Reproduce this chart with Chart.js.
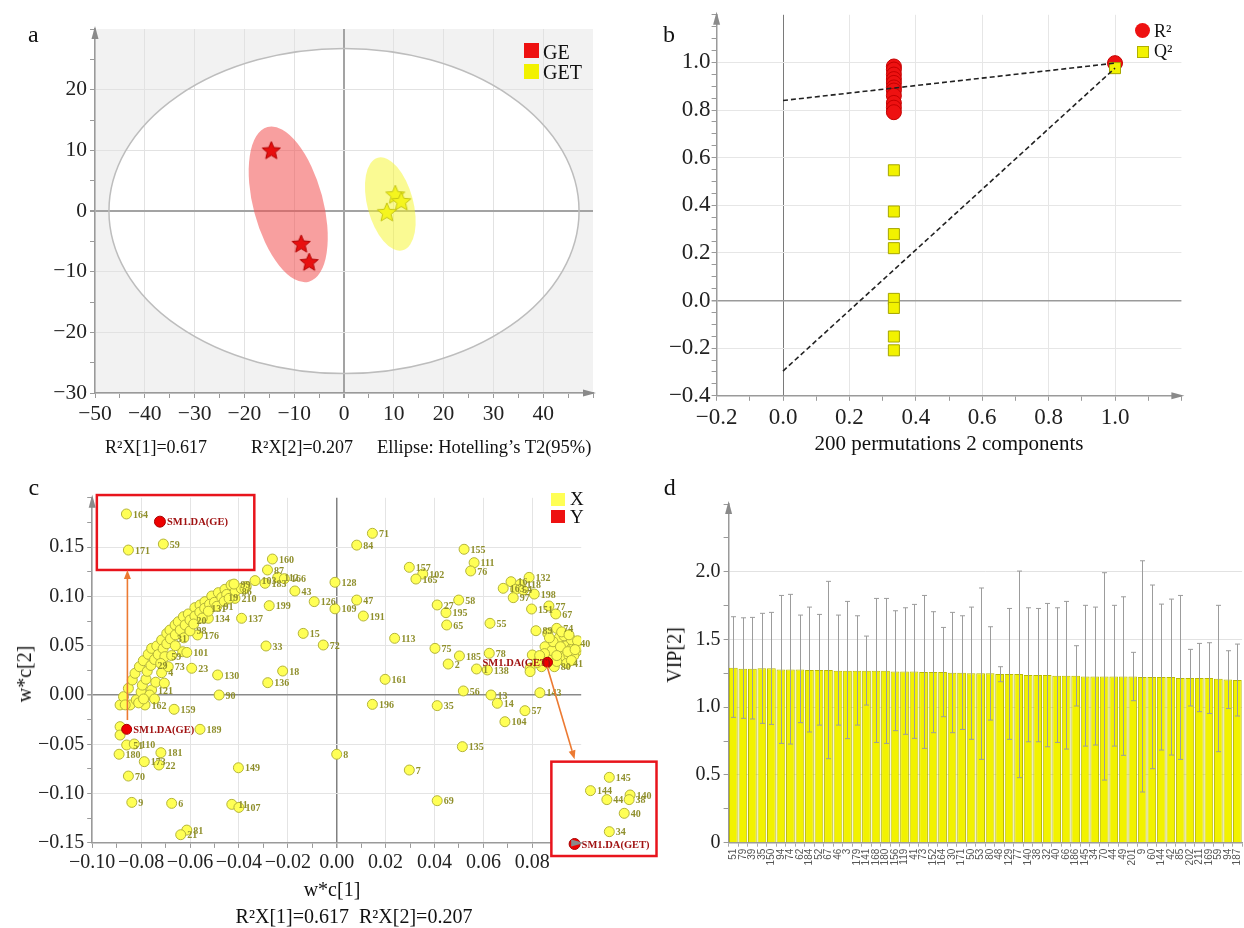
<!DOCTYPE html>
<html><head><meta charset="utf-8"><title>PLS-DA figure</title>
<script src="https://cdn.jsdelivr.net/npm/chart.js@4.4.1/dist/chart.umd.min.js"></script>
<style>
html,body{margin:0;padding:0;background:#fff}
body{width:1244px;height:928px;position:relative;overflow:hidden;font-family:"Liberation Serif","Times New Roman",serif;color:#111}
canvas{position:absolute;display:block}
.t{position:absolute;white-space:nowrap;line-height:1}
.c{transform:translateX(-50%)}
.r{transform:translate(-50%,-50%) rotate(-90deg)}
.box{position:absolute}
</style></head><body>
<canvas id="ca" width="620" height="470" style="left:0;top:0"></canvas>
<canvas id="cb" width="624" height="470" style="left:620px;top:0"></canvas>
<canvas id="cc" width="660" height="458" style="left:0;top:470px"></canvas>
<canvas id="cd" width="600" height="458" style="left:660px;top:470px"></canvas>

<!-- panel a texts -->
<div class="t" style="left:28px;top:22px;font-size:24px">a</div>
<div class="box" style="left:524px;top:43px;width:14.5px;height:15px;background:#ee1111"></div>
<div class="box" style="left:524px;top:64px;width:14.5px;height:15px;background:#f2f200"></div>
<div class="t" style="left:543px;top:41.6px;font-size:20px">GE</div>
<div class="t" style="left:543px;top:61.6px;font-size:20px">GET</div>
<div class="t" style="left:105px;top:438px;font-size:18px">R²X[1]=0.617</div>
<div class="t" style="left:251px;top:438px;font-size:18px">R²X[2]=0.207</div>
<div class="t" style="left:377px;top:438px;font-size:18.5px">Ellipse: Hotelling’s T2(95%)</div>

<!-- panel b texts -->
<div class="t" style="left:663px;top:22px;font-size:24px">b</div>
<div class="box" style="left:1135px;top:23px;width:15px;height:15px;border-radius:50%;background:#ee1111"></div>
<div class="box" style="left:1136.5px;top:45.5px;width:12px;height:12px;background:#f2f200;border:1px solid #b0b000;box-sizing:border-box"></div>
<div class="t" style="left:1154px;top:21.6px;font-size:18px">R²</div>
<div class="t" style="left:1154px;top:41.6px;font-size:18px">Q²</div>
<div class="t c" style="left:949px;top:433px;font-size:21px">200 permutations 2 components</div>

<!-- panel c texts -->
<div class="t" style="left:28.6px;top:475px;font-size:24px">c</div>
<div class="box" style="left:551px;top:493px;width:14px;height:12.5px;background:#ffff55"></div>
<div class="box" style="left:551px;top:510px;width:14px;height:12.5px;background:#ee1111"></div>
<div class="t" style="left:570px;top:489px;font-size:19px">X</div>
<div class="t" style="left:570px;top:507px;font-size:19px">Y</div>
<div class="t r" style="left:24px;top:674px;font-size:20px">w*c[2]</div>
<div class="t c" style="left:332px;top:879px;font-size:20px">w*c[1]</div>
<div class="t c" style="left:354px;top:906px;font-size:20px">R²X[1]=0.617&nbsp;&nbsp;R²X[2]=0.207</div>

<!-- panel d texts -->
<div class="t" style="left:663.7px;top:475px;font-size:24px">d</div>
<div class="t r" style="left:674px;top:655px;font-size:20px">VIP[2]</div>

<script>
// ================= DATA =================
// Panel a: PLS-DA score plot (t[1], t[2])
const aXTicks = [-50,-40,-30,-20,-10,0,10,20,30,40];
const aYTicks = [-30,-20,-10,0,10,20];
const aGE_t1  = [-14.6, -8.6, -7.0];
const aGE_t2  = [9.9, -5.5, -8.5];
const aGET_t1 = [10.3, 11.5, 8.6];
const aGET_t2 = [2.6, 1.5, -0.3];
const aHotelling = [0, 0, 47.2, 26.8];            // centre t1, centre t2, semi-axis t1, semi-axis t2
const aEllipseGE  = [-11.2, 1.1, 7.0, 13.2, -15];  // centre t1, t2, semi-axes, tilt (deg)
const aEllipseGET = [9.3, 1.15, 4.6, 7.9, -15];

// Panel b: permutation test
const bXTicks = [-0.2,0,0.2,0.4,0.6,0.8,1.0];
const bYTicks = [-0.4,-0.2,0,0.2,0.4,0.6,0.8,1.0];
const bPermCorr = 0.334;
const bR2Perm = [0.983,0.970,0.949,0.930,0.914,0.895,0.882,0.860,0.830,0.810,0.791];
const bQ2Perm = [0.547,0.374,0.279,0.220,0.007,-0.031,-0.151,-0.209];
const bR2Orig = 0.997, bQ2Orig = 0.976;
const bR2Line = [0.84, 0.997];     // intercept at 0, value at 1
const bQ2Line = [-0.296, 0.976];

// Panel c: loading plot w*c[1], w*c[2]  — [x, y, label]
const cXTicks = [-0.10,-0.08,-0.06,-0.04,-0.02,0,0.02,0.04,0.06,0.08];
const cYTicks = [-0.15,-0.10,-0.05,0,0.05,0.10,0.15];
const cLabelled = [
 [0.0146,0.164,'71'],[0.0082,0.152,'84'],[0.0521,0.1478,'155'],[0.0562,0.1342,'111'],[0.0548,0.1258,'76'],
 [0.0297,0.1295,'157'],[0.0352,0.1227,'102'],[0.0324,0.1176,'165'],[-0.0263,0.1379,'160'],[-0.0283,0.1268,'87'],
 [-0.0241,0.1193,'112'],[-0.0214,0.118,'166'],[-0.0334,0.116,'103'],[-0.0293,0.1133,'183'],[-0.0007,0.1143,'128'],
 [-0.0171,0.1055,'43'],[-0.0092,0.0947,'126'],[-0.0007,0.0874,'109'],[0.0082,0.0963,'47'],[0.0109,0.0801,'191'],
 [-0.0276,0.0906,'199'],[-0.0416,0.098,'210'],[-0.0389,0.0778,'137'],[-0.0525,0.0778,'134'],[-0.0569,0.0609,'176'],
 [-0.0137,0.0625,'15'],[-0.0055,0.0507,'72'],[-0.0289,0.0497,'33'],[-0.063,0.0439,''],[-0.0613,0.0432,'101'],
 [-0.0593,0.0271,'23'],[-0.0487,0.0203,'130'],[-0.0221,0.0243,'18'],[-0.0282,0.0125,'136'],[-0.0757,0.0051,'121'],
 [-0.0481,0.0,'90'],[-0.0784,-0.0101,'162'],[-0.0665,-0.0145,'159'],[-0.0559,-0.0348,'189'],[-0.0886,-0.0321,''],
 [-0.0886,-0.0406,''],[-0.0859,-0.0507,'51'],[-0.0828,-0.0497,'110'],[-0.089,-0.0601,'180'],[-0.0719,-0.0585,'181'],
 [-0.0787,-0.0676,'173'],[-0.0727,-0.071,'22'],[-0.0852,-0.0822,'70'],[-0.0402,-0.0738,'149'],[0.0,-0.0601,'8'],
 [0.0297,-0.0761,'7'],[0.0514,-0.0524,'135'],[0.0411,-0.1072,'69'],[-0.0838,-0.1089,'9'],[-0.0675,-0.1099,'6'],
 [-0.0429,-0.1109,'11'],[-0.04,-0.114,'107'],[-0.0613,-0.137,'81'],[-0.0638,-0.1417,'21'],[0.0198,0.0159,'161'],
 [0.0146,-0.0095,'196'],[0.0237,0.0575,'113'],[0.0402,0.0473,'75'],[0.0411,0.0913,'27'],[0.0499,0.0963,'58'],
 [0.0447,0.0835,'195'],[0.045,0.071,'65'],[0.0502,0.0396,'185'],[0.0456,0.0314,'2'],[0.0627,0.0727,'55'],
 [0.0624,0.0423,'78'],[0.0572,0.0264,'1'],[0.0616,0.0254,'138'],[0.0518,0.0041,'56'],[0.0631,0.0,'13'],
 [0.0657,-0.0084,'14'],[0.0688,-0.0271,'104'],[0.077,-0.0159,'57'],[0.0411,-0.0108,'35'],[0.0831,0.0023,'143'],
 [0.0787,0.1193,'132'],[0.0713,0.1149,'16'],[0.075,0.1122,'118'],[0.0681,0.1082,'163'],[0.0732,0.1072,'54'],
 [0.0763,0.1065,''],[0.0722,0.0987,'97'],[0.0808,0.1024,'198'],[0.0797,0.0872,'151'],[0.0868,0.0903,'77'],
 [0.0896,0.0822,'67'],[0.0815,0.0652,'89'],[0.09,0.0676,'74']
];
const cRightCluster = [
 [0.0863,0.0625,''],[0.0906,0.0534,''],[0.0800,0.0406,''],[0.0852,0.0490,''],[0.0872,0.0406,''],
 [0.0791,0.0271,''],[0.0791,0.0237,''],[0.0838,0.0287,''],[0.0890,0.0287,'80'],[0.0920,0.0450,''],
 [0.0940,0.0500,''],[0.0960,0.0470,''],[0.0970,0.0520,'40'],[0.0980,0.0440,''],[0.0930,0.0380,''],
 [0.0950,0.0400,''],[0.0910,0.0580,''],[0.0930,0.0600,''],[0.0960,0.0560,''],[0.0990,0.0490,''],
 [0.0940,0.0320,'41'],[0.0900,0.0340,''],[0.0880,0.0450,''],[0.0885,0.0540,''],[0.0920,0.0640,''],
 [0.0870,0.0580,''],[0.0850,0.0420,''],[0.0820,0.0330,''],[0.0830,0.0400,''],[0.0970,0.0400,''],
 [0.0985,0.0550,''],[0.0950,0.0610,''],[0.0915,0.0490,''],[0.0945,0.0440,''],[0.0900,0.0400,''],
 [0.0960,0.0350,''],[0.0975,0.0460,'']
];
const cLeftArc = [
 [-0.0886,-0.0101,''],[-0.0872,-0.0017,''],[-0.0852,0.0068,''],[-0.0836,0.0152,''],[-0.0825,0.0220,''],
 [-0.0807,0.0287,''],[-0.0791,0.0348,''],[-0.0771,0.0413,''],[-0.0757,0.0473,''],[-0.0736,0.0497,''],
 [-0.0716,0.0558,''],[-0.0695,0.0625,''],[-0.0682,0.0659,''],[-0.0661,0.0710,''],[-0.0648,0.0743,''],
 [-0.0627,0.0794,''],[-0.0607,0.0822,''],[-0.0580,0.0886,''],[-0.0559,0.0913,''],[-0.0539,0.0947,''],
 [-0.0511,0.1004,''],[-0.0484,0.1038,''],[-0.0457,0.1072,''],[-0.0432,0.1116,''],
 [-0.0845,-0.0101,''],[-0.0820,-0.0050,''],[-0.0800,0.0030,''],[-0.0795,0.0100,''],[-0.0780,0.0160,''],
 [-0.0775,0.0240,''],[-0.0760,0.0300,'29'],[-0.0745,0.0360,''],[-0.0730,0.0410,''],[-0.0710,0.0470,''],
 [-0.0695,0.0520,''],[-0.0680,0.0570,'31'],[-0.0660,0.0610,''],[-0.0640,0.0660,''],[-0.0620,0.0710,''],
 [-0.0600,0.0760,'20'],[-0.0580,0.0800,''],[-0.0560,0.0840,''],[-0.0540,0.0880,'131'],[-0.0520,0.0920,''],
 [-0.0500,0.0940,''],[-0.0470,0.0990,'19'],[-0.0450,0.1020,''],[-0.0415,0.1050,'86'],[-0.0390,0.1080,''],
 [-0.0370,0.1100,''],
 [-0.0716,0.0226,'4'],[-0.0689,0.0287,'73'],[-0.0703,0.0389,'59'],[-0.0740,0.0130,''],[-0.0765,0.0000,''],
 [-0.0810,-0.0080,''],[-0.0865,-0.0100,''],[-0.0745,-0.0040,''],[-0.0790,-0.0040,''],[-0.0705,0.0120,''],
 [-0.0720,0.0320,''],[-0.0675,0.0400,''],[-0.0660,0.0500,''],[-0.0625,0.0580,''],[-0.0600,0.0650,'98'],
 [-0.0585,0.0720,''],[-0.0550,0.0780,''],[-0.0525,0.0850,''],[-0.0490,0.0900,'91'],[-0.0460,0.0950,''],
 [-0.0440,0.0980,''],[-0.0420,0.1125,'99'],[-0.0375,0.1080,'']
];
const cYVars = [[-0.0859,-0.0348,'SM1.DA(GE)'],[0.0862,0.0332,'SM1.DA(GET)']];
// magnified insets (drawn in the loading-plot coordinates)
const cInsetX = [
 [-0.0860,0.1836,'164'],[-0.0852,0.1470,'171'],[-0.0709,0.1531,'59'],
 [0.1115,-0.0835,'145'],[0.1038,-0.0970,'144'],[0.1105,-0.1061,'44'],[0.1200,-0.1014,'140'],
 [0.1196,-0.1061,'38'],[0.1176,-0.1200,'40'],[0.1115,-0.1386,'34']
];
const cInsetY = [[-0.0723,0.1758,'SM1.DA(GE)'],[0.0973,-0.1511,'SM1.DA(GET)']];
const cInsetBoxes = [[-0.0981,0.2028,-0.0337,0.1268],[0.0878,-0.0676,0.1308,-0.1633]]; // x0,y0,x1,y1
const cArrows = [[-0.0856,-0.0254,-0.0856,0.1268],[0.0861,0.0287,0.0973,-0.0652]];   // from -> to

// Panel d: VIP[2]
const dYTicks = [0,0.5,1.0,1.5,2.0];
const dLabels = ['51','79','39','35','150','94','74','62','184','52','67','46','3','179','141','168','180','156','119','41','73','152','164','30','171','50','53','80','48','129','77','140','38','32','40','66','186','145','34','70','44','49','201','9','60','144','42','85','202','211','169','59','94','187'];
const dVip = [1.291,1.284,1.284,1.287,1.287,1.279,1.279,1.279,1.274,1.274,1.274,1.269,1.269,1.269,1.269,1.269,1.269,1.264,1.264,1.264,1.260,1.260,1.260,1.255,1.255,1.250,1.250,1.250,1.245,1.245,1.245,1.237,1.237,1.237,1.232,1.232,1.232,1.227,1.227,1.227,1.227,1.227,1.227,1.223,1.223,1.223,1.223,1.215,1.215,1.215,1.215,1.210,1.205,1.200];
const dUp = [1.668,1.660,1.663,1.693,1.700,1.825,1.833,1.680,1.739,1.685,1.929,1.680,1.781,1.675,1.525,1.803,1.803,1.712,1.734,1.759,1.825,1.705,1.589,1.700,1.675,1.739,1.880,1.594,1.299,1.729,2.005,1.734,1.729,1.766,1.734,1.781,1.454,1.752,1.739,1.993,1.752,1.815,1.405,2.081,1.902,1.761,1.798,1.825,1.427,1.471,1.476,1.752,1.417,1.466];
const dLo = [0.925,0.918,0.913,0.881,0.873,0.733,0.728,0.886,0.817,0.868,0.620,0.868,0.768,0.868,1.016,0.740,0.733,0.827,0.800,0.770,0.696,0.812,0.930,0.812,0.836,0.763,0.615,0.905,1.188,0.763,0.480,0.745,0.745,0.708,0.740,0.691,1.009,0.713,0.721,0.462,0.713,0.645,1.048,0.374,0.546,0.684,0.647,0.615,1.009,0.967,0.954,0.672,0.991,0.935];

// ================= HELPERS =================
Chart.defaults.font.family = '"Liberation Serif","Times New Roman",serif';
Chart.defaults.font.size = 20;
Chart.defaults.color = '#222';
Chart.defaults.animation = false;
Chart.defaults.plugins.legend.display = false;
Chart.defaults.plugins.tooltip.enabled = false;

const MINUS = '\u2212';
const isMajor = (v, majors) => majors.some(m => Math.abs(m - v) < 1e-9);
const fmtNum = (v, dec) => (v < -1e-12 ? MINUS : '') + Math.abs(v).toFixed(dec);

function linAxis(o) {
  return {
    type: 'linear', min: o.min, max: o.max,
    afterBuildTicks(ax) {
      const n = Math.round((o.max - o.min) / o.step), t = [];
      for (let i = 0; i <= n; i++) t.push({ value: Math.round((o.min + i * o.step) * 1e6) / 1e6 });
      ax.ticks = t;
    },
    ticks: {
      autoSkip: false, maxRotation: 0, minRotation: 0, padding: o.pad ?? 3, color: '#222',
      font: { size: o.font || 20 },
      callback: v => isMajor(v, o.majors) ? (o.fmt ? o.fmt(v) : fmtNum(v, o.dec)) : ''
    },
    grid: {
      color: c => {
        const v = c.tick ? c.tick.value : NaN;
        if (!isMajor(v, o.majors)) return 'rgba(0,0,0,0)';
        if (Math.abs(v) < 1e-9 && o.zeroColor) return o.zeroColor;
        return o.gridColor || '#e3e3e3';
      },
      lineWidth: c => {
        const v = c.tick ? c.tick.value : NaN;
        return (Math.abs(v) < 1e-9 && o.zeroColor) ? (o.zeroWidth || 1.5) : 1;
      },
      tickColor: '#9a9a9a', tickLength: 5, drawTicks: true
    },
    border: { display: true, color: '#9a9a9a', width: 1.5 },
    afterFit(ax) { if (o.isX) ax.height = o.size; else ax.width = o.size; }
  };
}

const axisArrows = {
  id: 'axisArrows',
  afterDraw(chart, args, opts) {
    const ca = chart.chartArea, g = chart.ctx;
    g.save(); g.fillStyle = '#8a8a8a';
    if (opts.up !== false) {
      g.beginPath(); g.moveTo(ca.left, ca.top - 3); g.lineTo(ca.left - 3.5, ca.top + 10); g.lineTo(ca.left + 3.5, ca.top + 10); g.closePath(); g.fill();
    }
    if (opts.right !== false) {
      g.beginPath(); g.moveTo(ca.right + 3, ca.bottom); g.lineTo(ca.right - 10, ca.bottom - 3.5); g.lineTo(ca.right - 10, ca.bottom + 3.5); g.closePath(); g.fill();
    }
    g.restore();
  }
};

function starCanvas(fill, stroke, R) {
  const c = document.createElement('canvas'); const s = Math.ceil(R * 2 + 4); c.width = c.height = s;
  const g = c.getContext('2d'); g.beginPath();
  for (let i = 0; i < 10; i++) {
    const r = i % 2 ? R * 0.45 : R, a = -Math.PI / 2 + i * Math.PI / 5;
    g.lineTo(s / 2 + r * Math.cos(a), s / 2 + r * Math.sin(a));
  }
  g.closePath(); g.fillStyle = fill; g.fill(); g.strokeStyle = stroke; g.lineWidth = 1; g.stroke();
  return c;
}

function ellipsePx(x, y, e) {
  const px = x.getPixelForValue(e[0]), py = y.getPixelForValue(e[1]);
  const rx = Math.abs(x.getPixelForValue(e[0] + e[2]) - px), ry = Math.abs(y.getPixelForValue(e[1] + e[3]) - py);
  return [px, py, rx, ry, ((e[4] || 0) * Math.PI) / 180];
}

// ================= PANEL A =================
const aShapes = {
  id: 'aShapes',
  beforeDraw(chart) {
    const { ctx: g, chartArea: ca, scales: { x, y } } = chart;
    g.save(); g.fillStyle = '#f2f2f2'; g.fillRect(ca.left, ca.top, ca.width, ca.height);
    const [px, py, rx, ry] = ellipsePx(x, y, aHotelling);
    g.beginPath(); g.ellipse(px, py, rx, ry, 0, 0, Math.PI * 2); g.fillStyle = '#ffffff'; g.fill();
    g.restore();
  },
  beforeDatasetsDraw(chart) {
    const { ctx: g, scales: { x, y } } = chart;
    g.save();
    let [px, py, rx, ry] = ellipsePx(x, y, aHotelling);
    g.beginPath(); g.ellipse(px, py, rx, ry, 0, 0, Math.PI * 2); g.strokeStyle = '#bdbdbd'; g.lineWidth = 1.5; g.stroke();
    [[aEllipseGE, 'rgba(242,80,80,0.55)'], [aEllipseGET, 'rgba(245,245,40,0.5)']].forEach(([e, col]) => {
      const q = ellipsePx(x, y, e);
      g.beginPath(); g.ellipse(q[0], q[1], q[2], q[3], q[4], 0, Math.PI * 2); g.fillStyle = col; g.fill();
    });
    g.restore();
  }
};

new Chart(document.getElementById('ca'), {
  type: 'scatter',
  data: {
    datasets: [
      { label: 'GE', data: aGE_t1.map((v, i) => ({ x: v, y: aGE_t2[i] })), pointStyle: starCanvas('#e80f0f', '#b00000', 9.5) },
      { label: 'GET', data: aGET_t1.map((v, i) => ({ x: v, y: aGET_t2[i] })), pointStyle: starCanvas('#f5f51e', '#c4c414', 10) }
    ]
  },
  options: {
    responsive: false, devicePixelRatio: 1,
    layout: { padding: { left: 0, top: 29, right: 27, bottom: 0 } },
    scales: {
      x: linAxis({ min: -50, max: 50, step: 5, majors: aXTicks, dec: 0, isX: true, size: 77, font: 21.5, zeroColor: '#a3a3a3', zeroWidth: 2, gridColor: '#e2e2e2' }),
      y: linAxis({ min: -30, max: 30, step: 5, majors: aYTicks, dec: 0, isX: false, size: 95, font: 21.5, zeroColor: '#a3a3a3', zeroWidth: 2, gridColor: '#e2e2e2' })
    },
    plugins: { axisArrows: {} }
  },
  plugins: [aShapes, axisArrows]
});

// ================= PANEL B =================
new Chart(document.getElementById('cb'), {
  type: 'scatter',
  data: {
    datasets: [
      { type: 'line', label: 'R2 fit', data: [{ x: 0, y: bR2Line[0] }, { x: 1, y: bR2Line[1] }], borderColor: '#222', borderDash: [5, 3], borderWidth: 1.6, pointRadius: 0, fill: false, order: 0 },
      { type: 'line', label: 'Q2 fit', data: [{ x: 0, y: bQ2Line[0] }, { x: 1, y: bQ2Line[1] }], borderColor: '#222', borderDash: [5, 3], borderWidth: 1.6, pointRadius: 0, fill: false, order: 0 },
      { label: 'R2', data: bR2Perm.map(v => ({ x: bPermCorr, y: v })).concat([{ x: 1, y: bR2Orig }]), pointStyle: 'circle', pointRadius: 7.5, backgroundColor: '#ee1111', borderColor: '#c40000', borderWidth: 1, order: 2 },
      { label: 'Q2', data: bQ2Perm.map(v => ({ x: bPermCorr, y: v })).concat([{ x: 1, y: bQ2Orig }]), pointStyle: 'rect', pointRadius: 7.8, backgroundColor: '#f2f200', borderColor: '#a6a600', borderWidth: 1, order: 1 }
    ]
  },
  options: {
    responsive: false, devicePixelRatio: 1,
    layout: { padding: { left: 0, top: 12.6, right: 62.6, bottom: 0 } },
    scales: {
      x: linAxis({ min: -0.2, max: 1.2, step: 0.1, majors: bXTicks, dec: 1, isX: true, size: 74.2, font: 23, zeroColor: '#7a7a7a', zeroWidth: 1, gridColor: '#e6e6e6' }),
      y: linAxis({ min: -0.4, max: 1.2, step: 0.05, majors: bYTicks, dec: 1, isX: false, size: 96.6, font: 23, pad: 1, zeroColor: '#9a9a9a', zeroWidth: 1.5, gridColor: '#e6e6e6' })
    },
    plugins: { axisArrows: {} }
  },
  plugins: [axisArrows]
});

// ================= PANEL C =================
const cMain = cLabelled.concat(cRightCluster, cLeftArc);
const pointLabels = {
  id: 'pointLabels',
  afterDatasetsDraw(chart) {
    const g = chart.ctx;
    chart.data.datasets.forEach((ds, i) => {
      if (!ds.pointLabels) return;
      const meta = chart.getDatasetMeta(i);
      const r = ds.dotRadius ?? ds.pointRadius;
      g.save(); g.font = ds.labelFont; g.fillStyle = ds.labelColor; g.textBaseline = 'middle';
      meta.data.forEach((el, j) => {
        const s = ds.pointLabels[j]; if (!s) return;
        if (ds.labelLeft && ds.labelLeft[j]) { g.textAlign = 'right'; g.fillText(s, el.x + 3, el.y + 1); }
        else { g.textAlign = 'left'; g.fillText(s, el.x + r + 1.5, el.y + 1); }
      });
      g.restore();
    });
  }
};
const cInsets = {
  id: 'cInsets',
  beforeDatasetsDraw(chart) {
    const { ctx: g, scales: { x, y } } = chart;
    const b = cInsetBoxes[1];
    const x0 = x.getPixelForValue(b[0]), y0 = y.getPixelForValue(b[1]), x1 = x.getPixelForValue(b[2]), y1 = y.getPixelForValue(b[3]);
    g.save(); g.fillStyle = '#fff'; g.fillRect(x0, y0, x1 - x0, y1 - y0); g.restore();
  },
  afterDatasetsDraw(chart) {
    // inset markers lie partly outside the plot area, so draw them at the positions Chart.js computed
    const g = chart.ctx;
    chart.data.datasets.forEach((ds, i) => {
      if (!ds.dotRadius) return;
      const meta = chart.getDatasetMeta(i);
      g.save(); g.fillStyle = ds.dotFill; g.strokeStyle = ds.dotStroke; g.lineWidth = 1;
      meta.data.forEach(el => { g.beginPath(); g.arc(el.x, el.y, ds.dotRadius, 0, Math.PI * 2); g.fill(); g.stroke(); });
      g.restore();
    });
  },
  afterDraw(chart) {
    const { ctx: g, scales: { x, y } } = chart;
    g.save();
    g.strokeStyle = '#e8141c'; g.lineWidth = 2.5;
    cInsetBoxes.forEach(b => {
      const x0 = x.getPixelForValue(b[0]), y0 = y.getPixelForValue(b[1]), x1 = x.getPixelForValue(b[2]), y1 = y.getPixelForValue(b[3]);
      g.strokeRect(x0, y0, x1 - x0, y1 - y0);
    });
    g.strokeStyle = '#ec7a32'; g.fillStyle = '#ec7a32'; g.lineWidth = 1.6;
    cArrows.forEach(a => {
      const xa = x.getPixelForValue(a[0]), ya = y.getPixelForValue(a[1]), xb = x.getPixelForValue(a[2]), yb = y.getPixelForValue(a[3]);
      const ang = Math.atan2(yb - ya, xb - xa), L = 9, W = 3.5;
      const bx = xb - L * Math.cos(ang), by = yb - L * Math.sin(ang);
      g.beginPath(); g.moveTo(xa, ya); g.lineTo(bx, by); g.stroke();
      g.beginPath(); g.moveTo(xb, yb);
      g.lineTo(bx + W * Math.sin(ang), by - W * Math.cos(ang));
      g.lineTo(bx - W * Math.sin(ang), by + W * Math.cos(ang));
      g.closePath(); g.fill();
    });
    g.restore();
  }
};
const olive = '#8f8f2c';
new Chart(document.getElementById('cc'), {
  type: 'scatter',
  data: {
    datasets: [
      { label: 'X', data: cMain.map(p => ({ x: p[0], y: p[1] })), pointLabels: cMain.map(p => p[2]), labelFont: 'bold 10px "Liberation Serif"', labelColor: olive,
        pointRadius: 5, backgroundColor: '#ffff55', borderColor: '#b4b43a', borderWidth: 1, order: 3 },
      { label: 'X inset', data: cInsetX.map(p => ({ x: p[0], y: p[1] })), pointLabels: cInsetX.map(p => p[2]), labelFont: 'bold 10px "Liberation Serif"', labelColor: olive,
        pointRadius: 0, dotRadius: 5, dotFill: '#ffff55', dotStroke: '#b4b43a', backgroundColor: '#ffff55', borderColor: '#b4b43a', clip: false, order: 2 },
      { label: 'Y', data: cYVars.map(p => ({ x: p[0], y: p[1] })), pointLabels: cYVars.map(p => p[2]), labelLeft: [false, true], labelFont: 'bold 10.5px "Liberation Serif"', labelColor: '#a01212',
        pointRadius: 5, backgroundColor: '#ee0000', borderColor: '#aa0000', borderWidth: 1, order: 1 },
      { label: 'Y inset', data: cInsetY.map(p => ({ x: p[0], y: p[1] })), pointLabels: cInsetY.map(p => p[2]), labelFont: 'bold 10.5px "Liberation Serif"', labelColor: '#a01212',
        pointRadius: 0, dotRadius: 5.5, dotFill: '#ee0000', dotStroke: '#aa0000', backgroundColor: '#ee0000', borderColor: '#aa0000', clip: false, order: 0 }
    ]
  },
  options: {
    responsive: false, devicePixelRatio: 1,
    layout: { padding: { left: 0, top: 27.8, right: 78.8, bottom: 0 } },
    scales: {
      x: linAxis({ min: -0.10, max: 0.10, step: 0.01, majors: cXTicks, dec: 2, isX: true, size: 85.1, zeroColor: '#808080', zeroWidth: 1.5, gridColor: '#e4e4e4' }),
      y: linAxis({ min: -0.15, max: 0.20, step: 0.025, majors: cYTicks, dec: 2, isX: false, size: 92.2, zeroColor: '#8a8a8a', zeroWidth: 1.5, gridColor: '#e4e4e4' })
    },
    plugins: { axisArrows: {} }
  },
  plugins: [cInsets, pointLabels, axisArrows]
});

// ================= PANEL D =================
const errorBars = {
  id: 'errorBars',
  afterDatasetsDraw(chart) {
    const g = chart.ctx, y = chart.scales.y, meta = chart.getDatasetMeta(0);
    g.save(); g.strokeStyle = '#9c9c9c'; g.lineWidth = 1;
    meta.data.forEach((bar, i) => {
      const xp = Math.round(bar.x) + 0.5, yt = y.getPixelForValue(dUp[i]), yb = y.getPixelForValue(dLo[i]);
      g.beginPath(); g.moveTo(xp, yt); g.lineTo(xp, yb);
      g.moveTo(xp - 2.5, yt); g.lineTo(xp + 2.5, yt);
      g.moveTo(xp - 2.5, yb); g.lineTo(xp + 2.5, yb); g.stroke();
    });
    g.restore();
  }
};
const dY = linAxis({ min: 0, max: 2.5, step: 0.25, majors: dYTicks, isX: false, size: 68.6, gridColor: '#e2e2e2',
  fmt: v => (Math.abs(v) < 1e-9 ? '0' : v.toFixed(1)) });
new Chart(document.getElementById('cd'), {
  type: 'bar',
  data: { labels: dLabels, datasets: [{ label: 'VIP[2]', data: dVip, backgroundColor: '#f2f200', borderColor: '#b9b900', borderWidth: 1, barPercentage: 0.92, categoryPercentage: 1.0 }] },
  options: {
    responsive: false, devicePixelRatio: 1,
    layout: { padding: { left: 0, top: 34, right: 17.9, bottom: 0 } },
    scales: {
      x: {
        type: 'category',
        ticks: { autoSkip: false, minRotation: 90, maxRotation: 90, padding: 2, color: '#555', font: { family: '"Liberation Sans", Arial, sans-serif', size: 10 } },
        grid: { display: true, drawOnChartArea: false, drawTicks: true, tickLength: 4, tickColor: '#aaa' },
        border: { display: true, color: '#9a9a9a', width: 1.5 },
        afterFit(ax) { ax.height = 85.3; }
      },
      y: dY
    },
    plugins: { axisArrows: { right: false } }
  },
  plugins: [errorBars, axisArrows]
});
</script>
</body></html>
